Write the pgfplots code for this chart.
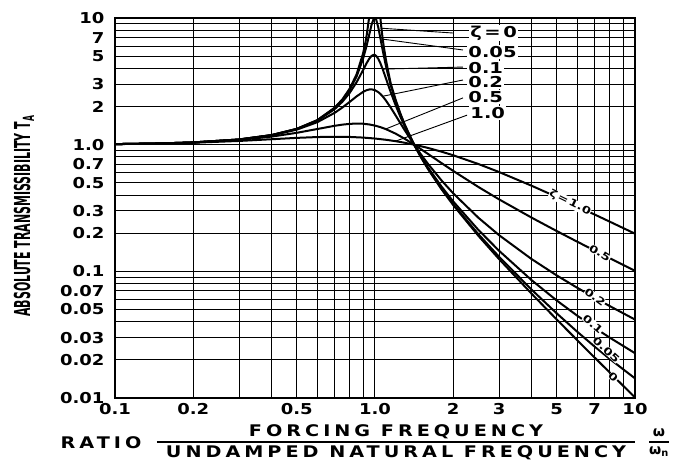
\documentclass[border=0pt]{standalone}
\usepackage{fontspec}
\setmainfont{DejaVu Sans}
\newfontfamily\tickfont{DejaVu Sans}[FakeStretch=1.2]
\newfontfamily\lblfont{DejaVu Sans}[FakeStretch=1.3]
\newfontfamily\ylabfont{DejaVu Sans}[FakeStretch=0.5]
\newfontfamily\xlabfont{DejaVu Sans}[FakeStretch=1.2,LetterSpace=25]
\usepackage{pgfplots}
\pgfplotsset{compat=1.18}
\tikzset{
  curve/.style={black, line width=2pt, line join=round},
  lead/.style={black, line width=0.9pt},
  toplab/.style={anchor=west, fill=white, inner sep=1.2pt, font=\lblfont\bfseries\fontsize{15}{17}\selectfont},
  botlab/.style={fill=white, inner sep=0.2pt, font=\lblfont\bfseries\fontsize{10}{11}\selectfont},
}
\begin{document}
\begin{tikzpicture}
\begin{axis}[
  xmode=log, ymode=log,
  xmin=0.1, xmax=10, ymin=0.01, ymax=10,
  width=520pt, height=380pt, scale only axis,
  axis line style={line width=1.6pt},
  grid=major,
  major grid style={black, line width=1pt},
  major tick length=0pt, minor tick length=0pt,
  xtick={0.1,0.2,0.3,0.4,0.5,0.6,0.7,0.8,0.9,1,2,3,4,5,6,7,8,9,10},
  xticklabels={0.1,0.2,,,0.5,,,,,1.0,2,3,,5,,7,,,10},
  ytick={0.01,0.02,0.03,0.04,0.05,0.06,0.07,0.08,0.09,0.1,0.2,0.3,0.4,0.5,0.6,0.7,0.8,0.9,1,2,3,4,5,6,7,8,9,10},
  yticklabels={0.01,0.02,0.03,,0.05,,0.07,,,0.1,0.2,0.3,,0.5,,0.7,,,1.0,2,3,,5,,7,,,10},
  xticklabel style={font=\tickfont\bfseries\fontsize{15}{17}\selectfont, yshift=-2pt},
  yticklabel style={font=\tickfont\bfseries\fontsize{15}{17}\selectfont, xshift=-7pt},
]
% zeta = 0 (left of resonance)
\addplot[curve] table {
x y
0.1 1.0101
0.15 1.0230
0.2 1.0417
0.3 1.0989
0.4 1.1905
0.5 1.3333
0.6 1.5625
0.7 1.9608
0.75 2.2857
0.8 2.7778
0.85 3.6036
0.9 5.2632
0.92 6.5104
0.93 7.4019
0.9487 10.0
};
% zeta = 0 (right of resonance)
\addplot[curve] table {
x y
1.0488 10.0
1.06 8.091
1.07 6.901
1.08 6.010
1.1 4.762
1.12 3.931
1.15 3.0246
1.2 2.2727
1.25 1.7778
1.3 1.4493
1.35 1.2158
1.4142 1.0
1.5 0.8
1.6 0.6410
1.8 0.4464
2 0.3333
2.5 0.19048
3 0.125
4 0.06667
5 0.041667
6 0.028571
7 0.020833
8 0.015873
10 0.010101
};
% zeta = 0.05
\addplot[curve] table {
x y
0.1 1.0101
0.15 1.0230
0.2 1.0417
0.3 1.0988
0.4 1.1901
0.5 1.3320
0.6 1.5585
0.7 1.9473
0.75 2.2592
0.8 2.7203
0.85 3.4580
0.9 4.7757
0.93 6.1233
0.95 7.379
0.97 8.845
0.99 9.951
1.0 10.05
1.01 9.760
1.03 8.401
1.05 6.853
1.07 5.583
1.1 4.2437
1.12 3.620
1.15 2.9398
1.2 2.2084
1.25 1.749
1.3 1.4362
1.4142 1.0
1.5 0.8032
1.6 0.6458
1.8 0.4521
2 0.3392
2.5 0.19612
3 0.13041
4 0.07178
5 0.046575
6 0.033315
7 0.025428
8 0.020326
10 0.014284
};
% zeta = 0.1
\addplot[curve] table {
x y
0.1 1.0101
0.15 1.0230
0.2 1.0416
0.3 1.0985
0.4 1.1889
0.5 1.3282
0.6 1.5468
0.7 1.9093
0.75 2.1863
0.8 2.5706
0.85 3.1169
0.9 3.8822
0.93 4.4246
0.95 4.7664
0.97 5.0228
0.99 5.123
1.0 5.099
1.01 5.026
1.03 4.7529
1.05 4.3727
1.07 3.9570
1.1 3.3666
1.12 3.0233
1.15 2.5904
1.2 2.0519
1.25 1.6746
1.3 1.4013
1.4142 1.0
1.5 0.8122
1.6 0.6593
1.8 0.4685
2 0.3559
2.5 0.2120
3 0.14537
4 0.08525
5 0.058875
6 0.044604
7 0.035828
8 0.029940
10 0.022582
};
% zeta = 0.2
\addplot[curve] table {
x y
0.1 1.0101
0.15 1.0229
0.2 1.0414
0.3 1.0973
0.4 1.1843
0.5 1.3138
0.6 1.5046
0.7 1.7849
0.75 1.9681
0.8 2.1798
0.85 2.4067
0.9 2.6110
0.93 2.6958
0.95 2.7269
0.97 2.7330
1.0 2.6926
1.03 2.5969
1.05 2.5088
1.07 2.4072
1.1 2.2408
1.15 1.9593
1.2 1.7035
1.25 1.4856
1.3 1.3045
1.4142 1.0
1.5 0.8411
1.6 0.7041
1.8 0.5237
2 0.4125
2.5 0.2646
3 0.19310
4 0.12508
5 0.092848
6 0.074112
7 0.061836
8 0.053148
10 0.041613
};
% zeta = 0.5
\addplot[curve] table {
x y
0.1 1.0100
0.15 1.0225
0.2 1.0400
0.3 1.0896
0.4 1.1576
0.5 1.2403
0.6 1.3293
0.7 1.4094
0.75 1.4396
0.8 1.4598
0.85 1.4678
0.9 1.4626
0.95 1.4443
1.0 1.4142
1.05 1.3744
1.1 1.3275
1.2 1.2222
1.3 1.1144
1.4142 1.0
1.5 0.9233
1.6 0.8443
1.8 0.7166
2 0.6202
2.5 0.4631
3 0.3701
4 0.2656
5 0.2080
6 0.17129
7 0.14577
8 0.12695
10 0.10100
};
% zeta = 1.0
\addplot[curve] table {
x y
0.1 1.0097
0.15 1.0211
0.2 1.0356
0.3 1.0699
0.4 1.1040
0.5 1.1314
0.6 1.1486
0.7 1.1547
0.8 1.1505
0.9 1.1376
1.0 1.1180
1.1 1.0935
1.2 1.0656
1.3 1.0356
1.4142 1.0
1.5 0.9730
1.6 0.9417
1.8 0.8812
2 0.8246
2.5 0.7033
3 0.6083
4 0.4743
5 0.3865
6 0.3254
7 0.2807
8 0.2466
10 0.1983
};
% leader lines and labels (upper right)
\draw[lead] (axis cs:1.06,8.3) -- (axis cs:2.0,7.61);
\draw[lead] (axis cs:1.05,6.85) -- (axis cs:2.18,5.59);
\draw[lead] (axis cs:1.07,3.95) -- (axis cs:2.18,4.10);
\draw[lead] (axis cs:1.07,2.41) -- (axis cs:2.18,3.24);
\draw[lead] (axis cs:1.10,1.33) -- (axis cs:2.18,2.34);
\draw[lead] (axis cs:1.20,1.066) -- (axis cs:2.26,1.71);
\node[toplab] at (axis cs:2.30,7.61) {ζ\,=\,0};
\node[toplab] at (axis cs:2.26,5.39) {0.05};
\node[toplab] at (axis cs:2.26,4.03) {0.1};
\node[toplab] at (axis cs:2.26,3.12) {0.2};
\node[toplab] at (axis cs:2.26,2.38) {0.5};
\node[toplab] at (axis cs:2.30,1.78) {1.0};
% labels along curves (lower right)
\node[botlab, rotate=-26] at (axis cs:5.62,0.348) {ζ\,=\,1.0};
\node[botlab, rotate=-31] at (axis cs:7.33,0.140) {0.5};
\node[botlab, rotate=-36] at (axis cs:7.02,0.0626) {0.2};
\node[botlab, rotate=-40] at (axis cs:6.89,0.0384) {0.1};
\node[botlab, rotate=-42] at (axis cs:7.76,0.0240) {0.05};
\node[botlab, rotate=-44] at (axis cs:8.25,0.0146) {0};
\coordinate (SW) at (rel axis cs:0,0);
\coordinate (NE) at (rel axis cs:1,1);
\end{axis}
% axis titles
\node[rotate=90, font={\ylabfont\bfseries\fontsize{22}{24}\selectfont}] at ([shift={(-91pt,182pt)}]SW) {ABSOLUTE TRANSMISSIBILITY T\textsubscript{A}};
\node[font={\xlabfont\bfseries\fontsize{16}{18}\selectfont}] at ([shift={(-14pt,-45pt)}]SW) {RATIO};
\draw[line width=1.1pt] ([shift={(42pt,-44pt)}]SW) -- ([shift={(520pt,-44pt)}]SW);
\node[font={\xlabfont\bfseries\fontsize{16}{18}\selectfont}] at ([shift={(281pt,-34pt)}]SW) {FORCING FREQUENCY};
\node[font={\xlabfont\bfseries\fontsize{16}{18}\selectfont}] at ([shift={(281pt,-55pt)}]SW) {UNDAMPED NATURAL FREQUENCY};
\node[font={\bfseries\fontsize{14}{16}\selectfont}] at ([shift={(544pt,-35pt)}]SW) {ω};
\draw[line width=1.1pt] ([shift={(534pt,-44pt)}]SW) -- ([shift={(554pt,-44pt)}]SW);
\node[font={\bfseries\fontsize{14}{16}\selectfont}] at ([shift={(544pt,-54pt)}]SW) {ω\textsubscript{n}};
\pgfresetboundingbox
\path[use as bounding box] ([shift={(-115pt,-63pt)}]SW) rectangle ([shift={(40pt,18pt)}]NE);
\end{tikzpicture}
\end{document}
